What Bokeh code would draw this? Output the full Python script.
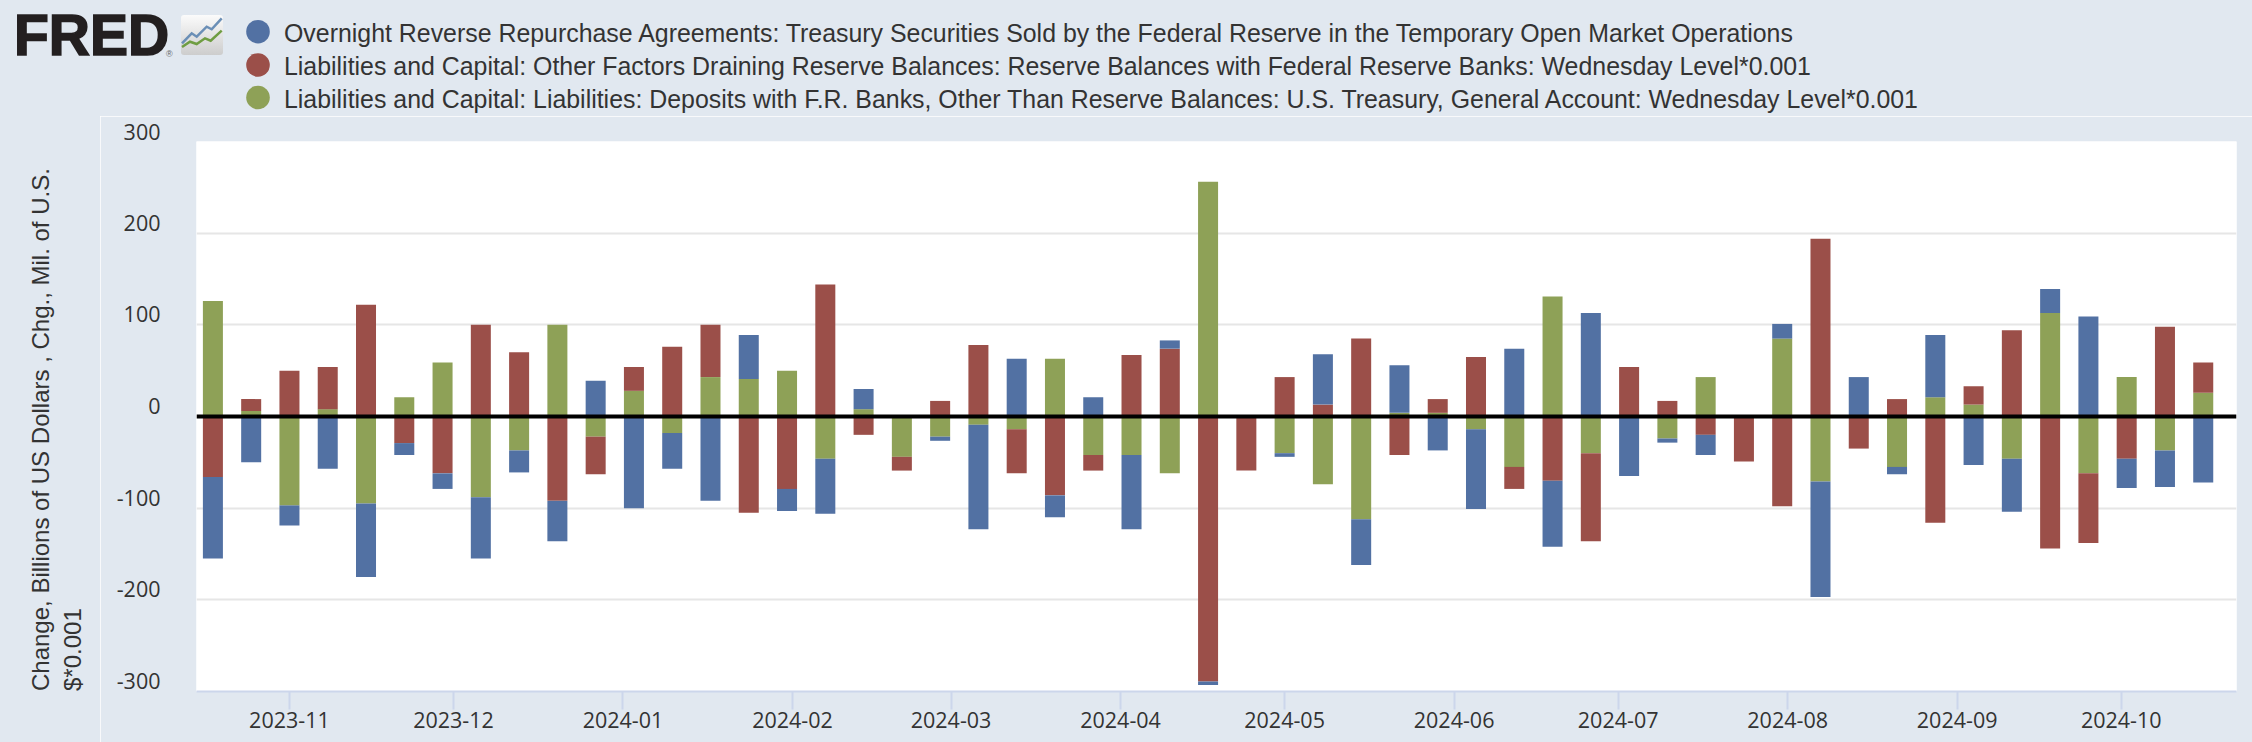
import numpy as np
import pandas as pd
from datetime import datetime
from bokeh.plotting import figure
from bokeh.layouts import column, row
from bokeh.models import (Range1d, DatetimeTickFormatter, MonthsTicker, FixedTicker,
                          Span, Div)
from bokeh.embed import file_html
from bokeh.resources import INLINE

# ---------------- data ----------------
WEEKS = pd.date_range("2023-10-18", periods=53, freq="7D")  # Wednesday levels

SERIES_NAMES = [
    "Overnight Reverse Repurchase Agreements: Treasury Securities Sold by the Federal Reserve in the Temporary Open Market Operations",
    "Liabilities and Capital: Other Factors Draining Reserve Balances: Reserve Balances with Federal Reserve Banks: Wednesday Level*0.001",
    "Liabilities and Capital: Liabilities: Deposits with F.R. Banks, Other Than Reserve Balances: U.S. Treasury, General Account: Wednesday Level*0.001",
]
COLORS = ["#5271a3", "#9b4f49", "#8ea157"]

# weekly change, billions
RRP = [-89, -50, -22, -57, -80, -13, -17, -67, -24, -44, 39, -100, -39, -92, 48, -24, -60,
       22, 0, -4.5, -114, 63, -24, 21, -81, 9, -4, 0, -4, 55, -50, 52, -37, -87, 74, -72,
       113, -65, -4.5, -22, 0, 16, -126, 43, -8, 68, -53, -58, 26, 109, -32, -40, -72]
RESERVES = [-66, 13, 50, 46, 122, -29, -62, 100, 70, -92, -41, 26, 76, 57, -105, -79, 144,
            -20, -15, 17, 78, -48, -86, -17, 67, 74, -289, -59, 43, 13, 85, -42, 15, 65, -24,
            -70, -96, 54, 17, -20, -49, -98, 194, -35, 19, -116, 20, 94, -144, -76, -46, 98, 33]
TGA = [126, 6, -97, 8, -95, 21, 59, -88, -37, 100, -22, 28, -18, 43, 41, 50, -46, 8, -44,
       -22, -9, -14, 63, -42, -42, -62, 256, 0, -40, -74, -112, 4, 4, -14, -55, 131, -40, 0,
       -24, 43, 0, 85, -71, 0, -55, 21, 13, -46, 113, -62, 43, -37, 26]

Y_TICKS = [-300, -200, -100, 0, 100, 200, 300]
Y_TITLE = ["Change, Billions of US Dollars , Chg., Mil. of U.S.", "$*0.001"]

BG = "#e1e8f0"
TXT = "#333333"
FONT = "Open Sans"
HEADER_H = 116
TITLE_W = 100
MAIN_H = 742 - HEADER_H

# ---------------- header: FRED logo + legend (inline svg) ----------------
leg_y = [31.7, 65.0, 97.5]
parts = [
    f'<svg xmlns="http://www.w3.org/2000/svg" width="2252" height="{HEADER_H}" style="display:block">',
    '<defs><linearGradient id="ic" x1="0" y1="0" x2="0" y2="1">'
    '<stop offset="0" stop-color="#fbfbfb"/><stop offset="1" stop-color="#cdcdcd"/></linearGradient></defs>',
    f'<rect x="0" y="0" width="2252" height="{HEADER_H}" fill="{BG}"/>',
    '<text x="14" y="55" font-family="DejaVu Sans" font-weight="bold" font-size="57" '
    'fill="#231f20" stroke="#231f20" stroke-width="1.6">FRED</text>',
    '<text x="166" y="57" font-family="DejaVu Sans" font-size="9" fill="#666">®</text>',
    '<rect x="181" y="15" width="42" height="40" rx="3" fill="url(#ic)"/>',
    '<polyline points="182,43.3 191.7,33.3 196.7,36.7 206.7,26.7 211.7,29.3 221.7,18.3" '
    'fill="none" stroke="#6b8fb6" stroke-width="2.5"/>',
    '<polyline points="182,47 190,41.7 196.7,44 205,38.3 210.7,40.7 221.7,30.7" '
    'fill="none" stroke="#6f9d42" stroke-width="2.5"/>',
]
for name, col, yy in zip(SERIES_NAMES, COLORS, leg_y):
    parts.append(f'<circle cx="258" cy="{yy}" r="11.8" fill="{col}"/>')
    parts.append(f'<text x="284" y="{yy + 10.4:.1f}" font-family="{FONT}" font-size="24.9" '
                 f'fill="{TXT}">{name}</text>')
parts.append('</svg>')
header = Div(text="".join(parts), width=2252, height=HEADER_H, margin=(0, 0, 0, 0))

# ---------------- y-axis title (two lines reading upward from the plot bottom) ----------------
y_bottom = 691 - HEADER_H
tparts = [f'<svg xmlns="http://www.w3.org/2000/svg" width="{TITLE_W}" height="{MAIN_H}" style="display:block">',
          f'<rect x="0" y="0" width="{TITLE_W}" height="{MAIN_H}" fill="{BG}"/>']
for txt, xc in zip(Y_TITLE, [40, 72.5]):
    tparts.append(f'<text transform="translate({xc},{y_bottom}) rotate(-90)" font-family="{FONT}" '
                  f'font-size="24" fill="{TXT}" dominant-baseline="central">{txt}</text>')
tparts.append('</svg>')
ytitle = Div(text="".join(tparts), width=TITLE_W, height=MAIN_H, margin=(0, 0, 0, 0))

# ---------------- main chart ----------------
X_START = datetime(2023, 10, 15)
X_END = datetime(2024, 10, 22, 2)

p = figure(width=2252 - TITLE_W, height=MAIN_H, x_axis_type="datetime",
           x_range=Range1d(X_START, X_END), y_range=Range1d(-300, 300),
           output_backend="svg", toolbar_location=None,
           min_border_left=196 - TITLE_W, min_border_right=16, min_border_top=141 - HEADER_H,
           min_border_bottom=51,
           background_fill_color="white", border_fill_color=BG, outline_line_color=None)

p.xgrid.grid_line_color = None
p.ygrid.grid_line_color = "#e6e6e6"
p.ygrid.grid_line_width = 2

ya = p.yaxis[0]
ya.ticker = FixedTicker(ticks=Y_TICKS)
# FRED sets its y labels just above the gridlines: an empty second line lifts them
ya.major_label_overrides = {t: f"{t}\n\u00a0" for t in Y_TICKS}
ya.major_label_text_line_height = 0.75
ya.axis_line_color = None
ya.major_tick_line_color = None
ya.minor_tick_line_color = None
ya.major_label_standoff = 30
ya.major_label_text_font = FONT
ya.major_label_text_font_size = "21.5px"
ya.major_label_text_color = TXT

xa = p.xaxis[0]
xa.ticker = MonthsTicker(months=list(range(1, 13)))
fmt = "%Y-%m"
xa.formatter = DatetimeTickFormatter(years=fmt, months=fmt, days=fmt, hours=fmt,
                                     minutes=fmt, seconds=fmt, milliseconds=fmt,
                                     microseconds=fmt, hourmin=fmt, minsec=fmt)
xa.axis_line_color = "#ccd6eb"
xa.axis_line_width = 2
xa.major_tick_line_color = "#ccd6eb"
xa.major_tick_line_width = 2
xa.major_tick_in = 0
xa.major_tick_out = 18
xa.minor_tick_line_color = None
xa.major_label_standoff = 2
xa.major_label_text_font = FONT
xa.major_label_text_font_size = "21.5px"
xa.major_label_text_color = TXT

# stacked bars: positives stack upward, negatives downward (TGA innermost, RRP outermost)
bar_w = 3.66 * 24 * 3600 * 1000
pos = np.zeros(len(WEEKS))
neg = np.zeros(len(WEEKS))
for vals, ci in [(TGA, 2), (RESERVES, 1), (RRP, 0)]:
    v = np.array(vals, dtype=float)
    bottom = np.where(v >= 0, pos, neg)
    top = bottom + v
    pos = np.where(v > 0, top, pos)
    neg = np.where(v < 0, top, neg)
    p.vbar(x=WEEKS, bottom=bottom, top=top, width=bar_w,
           fill_color=COLORS[ci], line_color=None)

p.add_layout(Span(location=0, dimension="width", line_color="black", line_width=4))

page = column(header, row(ytitle, p, spacing=0), spacing=0)
open("out.html", "w").write(file_html(page, INLINE))
